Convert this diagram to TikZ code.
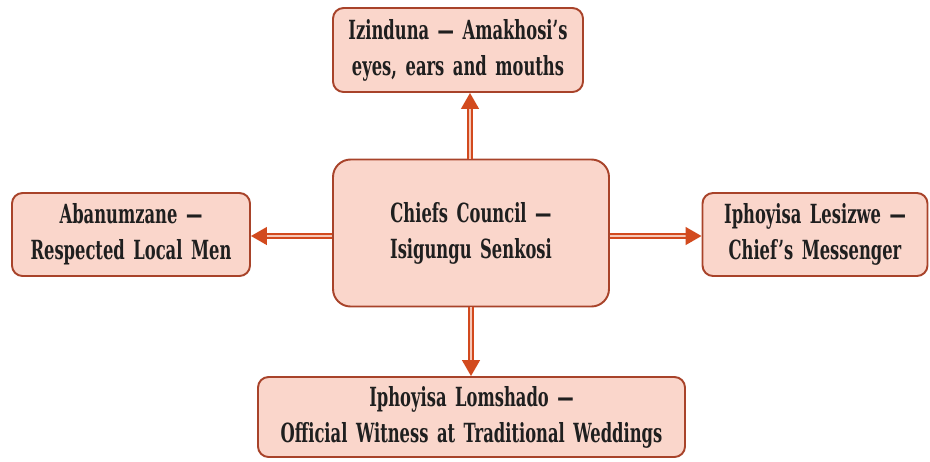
\documentclass[tikz,border=0pt]{standalone}
\usepackage{fontspec}
\setmainfont{DejaVu Serif}[FakeStretch=0.62, WordSpace=1.5]
\usepackage{tikz}
\usetikzlibrary{arrows.meta, calc}

\definecolor{boxfill}{HTML}{FAD6CB}
\definecolor{boxline}{HTML}{A8432A}
\definecolor{arrowc}{HTML}{D24A1E}
\definecolor{arrowin}{HTML}{F6C8B8}

\tikzset{
  rolebox/.style={draw=boxline, fill=boxfill, line width=1.1pt, rounded corners=6pt,
    align=center, font=\fontsize{15}{20.5}\selectfont\bfseries, text=black!88,
    execute at begin node={\rule{0pt}{16pt}}},
  link/.style={draw=arrowc, line width=1.2pt, double=arrowin, double distance=1pt,
    -{Triangle[length=9pt, width=10pt, fill=arrowc]}}
}

\begin{document}
\begin{tikzpicture}[x=0.02cm, y=-0.02cm]
\useasboundingbox (0,0) rectangle (930,461);

 %% boxes, pixel positions
\node[rolebox, minimum width=276*0.02cm, minimum height=147*0.02cm, rounded corners=10pt] (council) at (471, 233) {Chiefs Council ---\\Isigungu Senkosi};
\node[rolebox, minimum width=250*0.02cm, minimum height=84*0.02cm] (izinduna) at (458, 50) {Izinduna --- Amakhosi's\\eyes, ears and mouths};
\node[rolebox, minimum width=238*0.02cm, minimum height=83*0.02cm] (abanumzane) at (131, 234.5) {Abanumzane ---\\Respected Local Men};
\node[rolebox, minimum width=225*0.02cm, minimum height=83*0.02cm] (iphoyisa) at (815, 234.5) {Iphoyisa Lesizwe ---\\Chief's Messenger};
\node[rolebox, minimum width=427*0.02cm, minimum height=80*0.02cm] (lomshado) at (471.5, 417) {Iphoyisa Lomshado ---\\Official Witness at Traditional Weddings};

 %% arrows out of the council
\draw[link] (council.north -| 470,0) -- (izinduna.south -| 470,0);
\draw[link] (council.west |- 0,236) -- (abanumzane.east |- 0,236);
\draw[link] (council.east |- 0,236) -- (iphoyisa.west |- 0,236);
\draw[link] (council.south -| 471,0) -- (lomshado.north -| 471,0);

\end{tikzpicture}
\end{document}
